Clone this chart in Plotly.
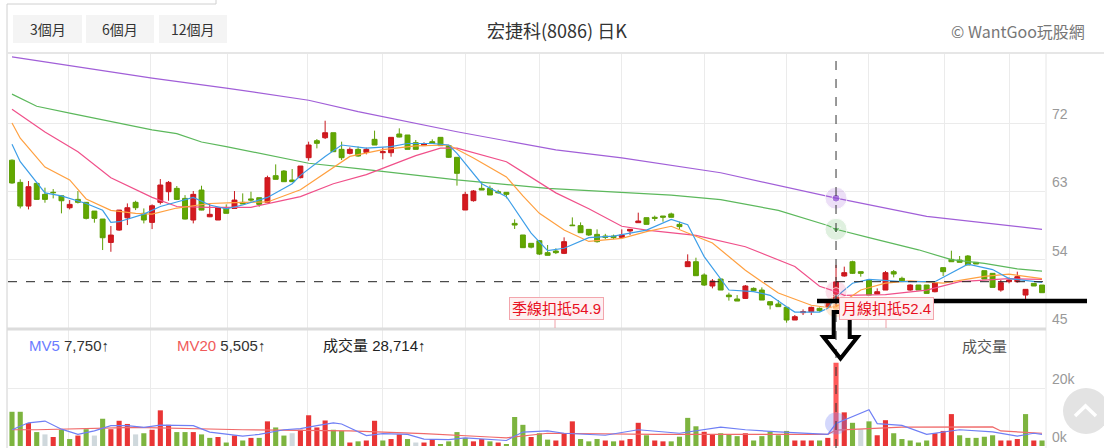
import plotly.graph_objects as go

# ---- daily candles (index 0..125) ----
opens = [67.1, 64.18, 61.06, 64.05, 62.6, 62.88, 62.42, 60.84, 61.94, 61.55,
         60.4, 59.35, 56.27, 57.9, 59.52, 61.55, 60.1, 58.91, 61.55, 62.95,
         63.39, 62.07, 59.22, 63.17, 59.65, 59.22, 60.75, 60.75, 61.55, 62.0,
         62.16, 61.55, 65.06, 65.67, 64.49, 64.8, 67.43, 69.67, 70.06, 70.72,
         68.53, 68.0, 68.53, 68.13, 69.85, 68.09, 68.09, 70.55, 70.42, 69.41,
         69.02, 69.54, 70.11, 69.02, 67.48, 60.54, 61.77, 63.39, 63.39, 62.95,
         62.87, 58.78, 57.25, 56.15, 56.5, 54.92, 55.14, 54.83, 58.56, 58.48,
         57.99, 57.33, 57.11, 57.11, 56.94, 57.78, 58.87, 59.53, 59.58, 59.75,
         60.02, 58.65, 53.08, 53.73, 51.98, 50.53, 51.45, 49.34, 48.82, 48.9,
         50.22, 50.0, 48.47, 48.16, 47.72, 46.05, 47.02, 47.15, 47.59, 47.81,
         48.68, 51.85, 53.73, 52.42, 51.32, 49.48, 50.0, 52.42, 51.54, 50.0,
         50.66, 50.66, 49.78, 52.95, 54.04, 53.95, 54.48, 53.65, 52.55, 52.2,
         50.0, 51.1, 51.1, 49.34, 50.88, 50.66]
highs = [67.2, 64.58, 64.36, 64.05, 63.48, 63.3, 62.5, 61.85, 63.04, 61.55,
         60.4, 59.35, 58.43, 60.53, 61.41, 61.76, 60.75, 61.28, 64.62, 64.36,
         63.7, 62.5, 63.04, 63.74, 61.41, 60.84, 61.28, 63.04, 62.73, 62.95,
         62.16, 65.06, 66.55, 65.8, 65.94, 66.33, 69.54, 69.89, 72.3, 70.72,
         69.54, 68.79, 68.9, 68.75, 70.99, 68.79, 70.11, 71.3, 70.42, 69.76,
         69.46, 69.85, 70.11, 69.02, 67.48, 62.95, 63.17, 64.27, 63.75, 63.2,
         62.87, 59.31, 57.25, 56.15, 56.59, 55.93, 55.49, 56.94, 59.57, 58.91,
         57.99, 57.99, 57.4, 57.3, 57.99, 58.0, 60.19, 59.53, 59.8, 59.75,
         60.19, 59.0, 54.7, 54.26, 52.2, 51.45, 51.54, 49.65, 49.34, 50.66,
         50.35, 50.35, 48.47, 48.68, 47.72, 46.71, 47.45, 47.81, 47.7, 48.6,
         53.3, 53.08, 53.86, 52.42, 51.41, 50.22, 52.51, 52.64, 51.76, 50.75,
         50.66, 50.66, 51.1, 52.95, 55.18, 54.48, 54.61, 53.65, 52.55, 52.2,
         51.32, 51.67, 52.42, 50.09, 50.88, 50.66]
lows = [64.0, 60.75, 60.62, 61.9, 61.5, 62.07, 60.1, 60.62, 61.4, 59.3,
        58.87, 55.27, 55.04, 57.8, 58.56, 60.53, 58.78, 58.03, 61.28, 61.76,
        61.85, 59.3, 58.78, 60.5, 59.6, 59.22, 60.1, 60.75, 61.33, 61.63,
        60.97, 61.55, 64.58, 64.27, 64.27, 64.71, 67.03, 68.66, 69.89, 68.22,
        67.12, 67.87, 67.56, 67.87, 69.1, 67.21, 67.56, 70.11, 68.53, 68.53,
        69.02, 69.32, 69.02, 67.39, 63.75, 60.54, 61.64, 63.17, 62.52, 62.7,
        62.08, 58.04, 55.58, 55.49, 54.61, 54.57, 54.74, 54.74, 58.48, 57.55,
        57.12, 56.24, 56.7, 56.7, 56.8, 57.25, 58.87, 58.65, 59.1, 59.0,
        59.58, 58.04, 53.08, 51.89, 50.53, 50.22, 50.0, 48.6, 48.55, 48.82,
        49.78, 48.68, 47.45, 47.81, 45.7, 46.05, 46.71, 46.71, 47.15, 47.7,
        47.9, 51.76, 52.11, 51.76, 49.34, 49.48, 50.0, 51.67, 51.19, 49.91,
        50.0, 49.56, 49.7, 51.85, 53.73, 53.65, 53.3, 53.43, 51.45, 50.35,
        49.78, 50.88, 50.97, 48.82, 50.53, 49.65]
closes = [64.1, 61.06, 63.61, 61.94, 61.94, 62.82, 61.76, 61.28, 61.55, 59.44,
          59.44, 56.89, 57.24, 60.53, 60.84, 60.84, 59.22, 61.1, 63.83, 64.18,
          61.94, 59.35, 62.6, 60.53, 59.97, 60.84, 60.1, 61.85, 61.33, 61.85,
          61.28, 64.8, 64.58, 64.27, 64.27, 66.33, 69.1, 69.32, 70.72, 68.22,
          67.43, 68.53, 67.65, 68.53, 69.1, 68.22, 70.11, 70.15, 68.53, 68.53,
          69.25, 69.32, 69.02, 67.48, 65.37, 62.6, 63.04, 63.17, 62.52, 62.82,
          62.6, 58.56, 55.58, 55.65, 54.74, 54.57, 54.92, 56.37, 58.48, 57.55,
          57.25, 56.37, 56.94, 56.9, 57.25, 58.0, 59.09, 58.65, 59.45, 59.6,
          59.58, 58.35, 53.73, 51.89, 50.66, 51.19, 50.0, 49.12, 48.55, 50.53,
          49.91, 48.68, 48.03, 47.81, 46.05, 46.49, 47.15, 47.72, 47.28, 48.47,
          51.1, 52.29, 52.2, 52.2, 49.34, 49.78, 52.29, 52.11, 51.19, 50.66,
          50.0, 49.56, 50.97, 52.42, 53.73, 53.65, 53.3, 53.43, 51.45, 50.35,
          50.97, 51.32, 51.76, 50.09, 50.53, 49.65]

# ---- volume (thousand shares) and its colour code: r up, g down, n flat ----
volume = [11.8, 11.8, 7.9, 4.8, 4.0, 3.1, 5.6, 2.4, 3.6, 5.8,
          3.6, 9.4, 5.8, 8.7, 7.6, 4.0, 4.4, 5.6, 12.3, 7.3,
          4.8, 4.8, 4.8, 4.0, 2.8, 3.1, 1.2, 3.6, 1.9, 2.8,
          2.8, 8.5, 6.4, 3.6, 4.4, 5.6, 10.6, 6.4, 8.8, 5.6,
          5.2, 1.2, 1.6, 1.9, 8.7, 1.9, 2.4, 4.0, 2.4, 1.2,
          1.2, 2.4, 0.7, 1.6, 4.8, 2.8, 1.6, 2.4, 1.6, 1.2,
          0.7, 10.0, 7.3, 3.1, 4.4, 2.2, 1.9, 4.4, 8.5, 2.4,
          1.6, 2.4, 1.9, 1.6, 1.9, 2.4, 8.0, 3.7, 1.9, 1.6,
          1.6, 3.2, 9.7, 6.8, 4.9, 4.0, 4.4, 4.0, 3.4, 4.4,
          1.9, 3.4, 4.9, 3.7, 5.2, 1.9, 1.9, 1.9, 1.9, 2.8,
          28.714, 11.6, 8.0, 5.8, 8.5, 3.7, 8.9, 4.4, 2.4, 1.9,
          1.2, 1.9, 4.4, 5.2, 11.0, 3.7, 2.8, 2.8, 3.2, 3.7,
          1.9, 1.9, 2.4, 11.0, 1.9, 1.9]
vol_dir = list(
    "ggrgnrggrg"
    "ngrrrngrrr"
    "ggrggrgrgr"
    "grggnrrrrg"
    "grgrrgrrgn"
    "rrggggrrgr"
    "gggrggrrrg"
    "ggrgrrrgrr"
    "ggggrrgggr"
    "gggggrrrgr"
    "rrgngrrggg"
    "ggrrrggggg"
    "rrrgrg"
)

# ---- moving averages (candle index -> value) ----
ma5_x = [0, 1, 4, 6, 9, 11, 12, 13, 16, 18, 20, 22, 24, 26, 28, 31, 34, 35, 38, 39,
         40, 43, 46, 48, 51, 53, 54, 57, 60, 63, 65, 67, 70, 73, 77, 80, 82, 84, 86, 87,
         90, 92, 94, 95, 98, 99, 100, 102, 104, 108, 112, 114, 116, 119, 121, 125]
ma5_y = [69.2, 66.9, 62.8, 62.4, 61.4, 60.5, 58.9, 59.0, 60.0, 61.0, 61.6, 62.2, 61.2, 60.7,
         61.2, 62.2, 64.0, 65.1, 67.6, 68.4, 69.1, 68.7, 68.9, 69.3, 69.3, 69.1, 68.0, 64.0,
         62.3, 57.5, 55.2, 55.5, 56.9, 57.1, 57.9, 59.3, 58.6, 54.4, 51.5, 50.0, 49.8, 49.3,
         47.8, 47.1, 47.1, 47.6, 49.1, 50.9, 51.4, 51.1, 51.1, 52.2, 53.4, 52.7, 51.5, 51.0]
ma10_x = [0, 1, 4, 7, 9, 12, 15, 17, 20, 24, 27, 31, 35, 39, 41, 45, 49, 53, 56, 60,
          62, 64, 67, 70, 74, 77, 80, 85, 89, 93, 97, 99, 100, 103, 106, 109, 113, 118,
          121, 125]
ma10_y = [72.0, 70.0, 66.2, 64.5, 62.0, 60.5, 60.1, 60.0, 60.8, 61.4, 61.5, 61.6, 63.2,
          66.2, 67.6, 68.5, 69.0, 69.1, 67.4, 64.9, 62.4, 60.1, 57.9, 56.4, 56.8, 57.7,
          58.4, 56.2, 52.6, 49.6, 48.0, 47.7, 47.8, 50.0, 50.9, 51.2, 50.9, 51.8, 52.1, 51.5]
ma20_x = [0, 4, 8, 12, 17, 20, 24, 29, 35, 39, 43, 49, 52, 54, 60, 66, 70, 74, 77, 83,
          89, 95, 98, 100, 101, 106, 111, 115, 121, 125]
ma20_y = [73.8, 70.8, 68.2, 64.8, 62.2, 61.0, 60.9, 60.9, 62.3, 64.0, 65.2, 67.7, 68.7,
          68.7, 66.9, 62.8, 60.7, 58.4, 57.9, 57.2, 55.7, 53.1, 50.5, 49.8, 49.3, 49.4,
          50.0, 51.1, 51.5, 51.4]
ma60_x = [0, 3, 7, 12, 17, 20, 23, 26, 31, 36, 42, 54, 65, 74, 80, 86, 93, 99, 100, 104,
          110, 114, 118, 122, 125]
ma60_y = [75.8, 74.2, 73.3, 72.2, 71.1, 70.6, 69.5, 68.9, 67.8, 66.7, 66.0, 64.5, 63.4,
          62.9, 62.5, 61.9, 60.5, 58.5, 58.0, 56.9, 55.3, 54.0, 53.5, 52.8, 52.5]
ma120_x = [0, 7, 17, 26, 36, 42, 54, 66, 74, 86, 100, 111, 125]
ma120_y = [80.7, 79.55, 77.9, 76.6, 75.0, 73.5, 70.85, 68.45, 67.4, 65.45, 62.1, 59.7, 58.0]

mv5_x = [0, 2, 4, 6, 8, 10, 12, 14, 16, 18, 22, 24, 28, 30, 33, 35, 37, 39, 40, 43, 45,
         48, 50, 53, 55, 58, 60, 62, 65, 67, 72, 76, 81, 86, 89, 93, 96, 99, 100, 104,
         105, 108, 111, 115, 119, 122, 124, 125]
mv5_y = [5.6, 8.0, 8.6, 5.8, 4.0, 5.2, 7.0, 7.0, 6.4, 7.2, 7.0, 4.8, 3.4, 4.0, 5.6, 6.0,
         7.0, 8.0, 7.6, 3.6, 4.3, 4.0, 2.4, 2.2, 2.8, 2.4, 1.9, 4.8, 5.2, 4.4, 3.7, 5.6,
         4.4, 6.5, 5.6, 4.9, 4.4, 4.0, 7.75, 12.5, 7.7, 7.1, 4.0, 5.6, 4.9, 3.4, 4.4, 4.0]
mv20_x = [0, 3, 15, 28, 41, 50, 58, 60, 65, 78, 99, 100, 108, 119, 120, 125]
mv20_y = [5.6, 5.6, 6.4, 5.6, 5.2, 4.3, 3.1, 2.8, 4.4, 4.0, 4.0, 5.505, 6.5, 6.6, 5.2, 4.4]

month_ticks = [6.9, 16.75, 26.1, 35.9, 45, 55, 64, 74, 84, 94, 104, 113.2, 121]
hover_i = 100
W, H = 1104, 448
FONT = "Liberation Sans, Arial, Noto Sans CJK TC, sans-serif"


def px(x):
    return x / W


def py(y):
    return 1 - y / H


idx = list(range(len(closes)))
vcolors = {"r": "#e93535", "g": "#7db43f", "n": "#cfd8dc"}

fig = go.Figure()

fig.add_trace(go.Candlestick(
    x=idx, open=opens, high=highs, low=lows, close=closes,
    increasing=dict(line=dict(color="#c8171d", width=1), fillcolor="#d5191f"),
    decreasing=dict(line=dict(color="#5d9f06", width=1), fillcolor="#62a800"),
    whiskerwidth=0, hoverinfo="skip", showlegend=False,
))

for xs, ys, col in [(ma120_x, ma120_y, "#a15fd8"), (ma60_x, ma60_y, "#5cb85c"),
                    (ma20_x, ma20_y, "#f0508a"), (ma10_x, ma10_y, "#ffa040"),
                    (ma5_x, ma5_y, "#3d9ee8")]:
    fig.add_trace(go.Scatter(x=xs, y=ys, mode="lines", line=dict(color=col, width=1.2),
                             hoverinfo="skip", showlegend=False))

# hover highlight markers on the averages
for xs, ys, halo, dot, sym in [(ma120_x, ma120_y, "rgba(161,95,216,0.28)", "#8e4fd0", "circle"),
                               (ma60_x, ma60_y, "rgba(92,184,92,0.28)", "#5cb85c", "triangle-down"),
                               (ma20_x, ma20_y, "rgba(240,80,138,0.25)", "rgba(240,80,138,0.5)", "circle"),
                               (ma10_x, ma10_y, "rgba(255,160,64,0.3)", "rgba(255,160,64,0.6)", "circle")]:
    v = ys[xs.index(hover_i)]
    fig.add_trace(go.Scatter(x=[hover_i, hover_i], y=[v, v], mode="markers",
                             marker=dict(size=[22, 8], color=[halo, dot], symbol=["circle", sym]),
                             hoverinfo="skip", showlegend=False))

bar_colors = [vcolors[c] for c in vol_dir]
bar_colors[hover_i] = "#ff5a5a"
fig.add_trace(go.Bar(x=idx, y=volume, yaxis="y2",
                     marker=dict(color=bar_colors, line=dict(width=0)),
                     hoverinfo="skip", showlegend=False))
fig.add_trace(go.Scatter(x=mv20_x, y=mv20_y, yaxis="y2", mode="lines",
                         line=dict(color="#f06a6a", width=1.2), hoverinfo="skip", showlegend=False))
fig.add_trace(go.Scatter(x=mv5_x, y=mv5_y, yaxis="y2", mode="lines",
                         line=dict(color="#6f7ff5", width=1.2), hoverinfo="skip", showlegend=False))
mv5_h = mv5_y[mv5_x.index(hover_i)]
fig.add_trace(go.Scatter(x=[hover_i], y=[mv5_h], yaxis="y2", mode="markers",
                         marker=dict(size=22, color="rgba(111,127,245,0.3)"),
                         hoverinfo="skip", showlegend=False))

grid = "#ebebeb"
fig.update_layout(
    width=W, height=H, margin=dict(l=0, r=0, t=0, b=0, autoexpand=False),
    paper_bgcolor="white", plot_bgcolor="white",
    font=dict(family=FONT, size=14, color="#333"),
    bargap=0.38, boxgap=0.15, hovermode=False,
    xaxis=dict(domain=[px(8), px(1045)], range=[-0.485, 125.36], showticklabels=False,
               tickvals=month_ticks, showgrid=True, gridcolor=grid, gridwidth=1,
               zeroline=False, showline=False, ticks="", rangeslider=dict(visible=False),
               fixedrange=True),
    yaxis=dict(domain=[py(328), py(53)], range=[45, 81.22], side="right",
               tickvals=[45, 54, 63, 72], showgrid=True, gridcolor=grid, zeroline=False,
               tickfont=dict(color="#999", size=14), ticklabelshift=-9, ticklabelstandoff=6),
    yaxis2=dict(domain=[py(446), py(330)], range=[0, 40], side="right", anchor="x",
                tickvals=[0, 20], ticktext=["0k", "20k"], showgrid=True, gridcolor=grid,
                zeroline=False, tickfont=dict(color="#999", size=14), ticklabelshift=-9,
                ticklabelstandoff=6),
)

shapes = []
# frame lines
shapes.append(dict(type="line", xref="paper", yref="paper", x0=px(7), x1=px(7), y0=py(4), y1=0,
                   line=dict(color="#d0d0d0", width=1)))
shapes.append(dict(type="line", xref="paper", yref="paper", x0=px(7), x1=px(216), y0=py(4), y1=py(4),
                   line=dict(color="#d0d0d0", width=1)))
shapes.append(dict(type="line", xref="paper", yref="paper", x0=px(216), x1=px(216), y0=1, y1=py(4),
                   line=dict(color="#d0d0d0", width=1)))
shapes.append(dict(type="line", xref="paper", yref="paper", x0=px(7), x1=1, y0=py(53), y1=py(53),
                   line=dict(color="#e6e6e6", width=2)))
shapes.append(dict(type="line", xref="paper", yref="paper", x0=px(1046), x1=px(1046), y0=0, y1=py(53),
                   line=dict(color="#e6e6e6", width=1)))
shapes.append(dict(type="line", xref="paper", yref="paper", x0=px(7), x1=px(1046), y0=py(329), y1=py(329),
                   line=dict(color="#dcdcdc", width=3)))
# period buttons
for x0, x1 in [(13, 82), (86, 154), (159, 227)]:
    shapes.append(dict(type="rect", xref="paper", yref="paper", x0=px(x0), x1=px(x1),
                       y0=py(43), y1=py(15), fillcolor="#f4f4f4", line=dict(width=0)))
# crosshair
shapes.append(dict(type="line", xref="x", yref="paper", x0=hover_i, x1=hover_i, y0=0, y1=py(56),
                   line=dict(color="#333", width=1, dash="dash")))
shapes.append(dict(type="line", xref="paper", yref="y", x0=px(8), x1=px(1045),
                   y0=closes[hover_i], y1=closes[hover_i], line=dict(color="#222", width=1, dash="dash")))
# label box stems
for sx in [555, 886]:
    shapes.append(dict(type="line", xref="paper", yref="paper", x0=px(sx), x1=px(sx),
                       y0=py(319), y1=py(328), line=dict(color="#f0a0a8", width=1)))
# hand-drawn support line and arrow
shapes.append(dict(type="line", xref="paper", yref="paper", x0=px(817), x1=px(1087),
                   y0=py(301), y1=py(301), line=dict(color="black", width=4.5)))
arrow_pts = [(833.7, 312), (849.7, 312), (849.7, 337), (857.5, 337), (840.5, 358.5),
             (823.5, 337), (833.7, 337)]
path = "M " + " L ".join(f"{px(a):.5f},{py(b):.5f}" for a, b in arrow_pts) + " Z"
shapes.append(dict(type="path", xref="paper", yref="paper", path=path,
                   line=dict(color="black", width=4), fillcolor="rgba(0,0,0,0)"))
# scroll-to-top button
shapes.append(dict(type="circle", xref="paper", yref="paper", x0=px(1063), x1=px(1109),
                   y0=py(434), y1=py(388), fillcolor="#e3e3e3", line=dict(width=0)))
shapes.append(dict(type="path", xref="paper", yref="paper",
                   path=f"M {px(1075):.5f},{py(416):.5f} L {px(1085.5):.5f},{py(406):.5f} L {px(1096):.5f},{py(416):.5f}",
                   line=dict(color="white", width=3.5)))
fig.update_layout(shapes=shapes)


def note(text, x, y, xanchor="center", **kw):
    d = dict(text=text, x=px(x), y=py(y), xref="paper", yref="paper", showarrow=False,
             xanchor=xanchor, yanchor="middle")
    d.update(kw)
    return d


CJK = "Noto Sans CJK TC"
ann = []
for text, cx in [("3個月", 47.5), ("6個月", 120), ("12個月", 193)]:
    ann.append(note(text, cx, 29, font=dict(size=14, color="#333", family=CJK)))
ann.append(note("宏捷科(8086) 日K", 557, 30, font=dict(size=18, color="#333", family=CJK)))
ann.append(note("© WantGoo玩股網", 1087, 31, xanchor="right",
                font=dict(size=16, color="#777", family=CJK)))
ann.append(note("<span style='color:#6b7cff'>MV5</span> 7,750↑", 27, 345, xanchor="left",
                font=dict(size=15, color="#333")))
ann.append(note("<span style='color:#f05a5a'>MV20</span> 5,505↑", 175, 345, xanchor="left",
                font=dict(size=15, color="#333")))
ann.append(note("成交量 28,714↑", 321, 345, xanchor="left", font=dict(size=15, color="#222")))
ann.append(note("成交量", 984, 345, font=dict(size=15, color="#555", family=CJK)))
for text, cx in [("季線扣抵54.9", 556), ("月線扣抵52.4", 886)]:
    ann.append(note(text, cx, 308, bgcolor="#fdf0f1", bordercolor="#f3a6ad", borderwidth=1,
                    borderpad=2, font=dict(size=15, color="#e8101f", family=FONT)))
fig.update_layout(annotations=ann)

fig.write_html("out.html", config={"displayModeBar": False, "staticPlot": True},
               post_script="document.body.style.margin='0px';")
